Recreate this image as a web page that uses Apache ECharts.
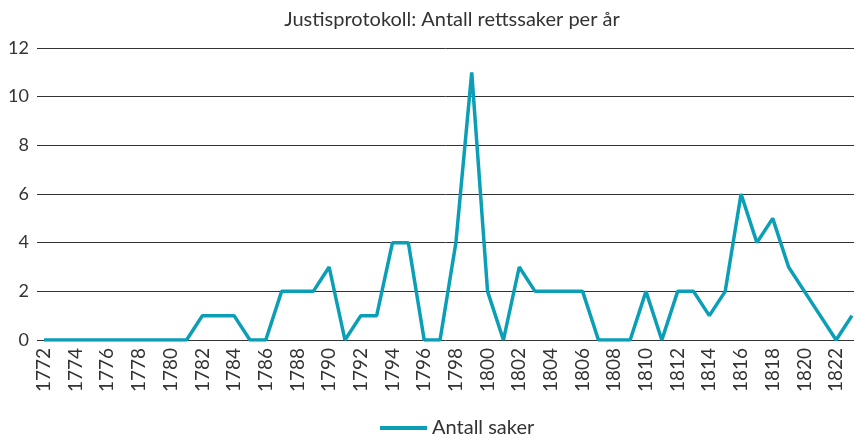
<!DOCTYPE html>
<html>
<head>
<meta charset="utf-8">
<script src="https://cdn.jsdelivr.net/npm/echarts@6/dist/echarts.min.js"></script>
<style>
  html, body { margin: 0; padding: 0; background: #fff; }
  #chart { width: 854px; height: 435px; }
</style>
</head>
<body>
<div id="chart"></div>
<script>
// years 1772 - 1823
const years = [];
for (let y = 1772; y <= 1823; y++) years.push(y);

const antallSaker = [
  0, 0, 0, 0, 0, 0, 0, 0, 0, 0,
  1, 1, 1, 0, 0, 2, 2, 2, 3, 0,
  1, 1, 4, 4, 0, 0, 4, 11, 2, 0,
  3, 2, 2, 2, 2, 0, 0, 0, 2, 0,
  2, 2, 1, 2, 6, 4, 5, 3, 2, 1,
  0, 1
];

// every second year is labelled
const yearLabels = years.filter(y => y % 2 === 0 && y <= 1822);

const yTicks = { min: 0, max: 12, interval: 2 };

const font = 'Lato, "Open Sans", sans-serif';

const myChart = echarts.init(document.getElementById('chart'));
myChart.setOption({
  animation: false,
  title: {
    text: 'Justisprotokoll: Antall rettssaker per år',
    left: 447,
    textAlign: 'center',
    top: 5,
    textStyle: { fontFamily: font, fontSize: 20, fontWeight: 'normal', color: '#333' }
  },
  legend: {
    top: 413,
    left: 375,
    itemWidth: 47,
    itemHeight: 4,
    itemGap: 10,
    icon: 'rect',
    textStyle: { fontFamily: font, fontSize: 20, color: '#333' },
    data: ['Antall saker']
  },
  grid: { left: 37, right: 0, top: 48, bottom: 95, containLabel: false },
  xAxis: {
    type: 'value',
    min: 1771.56,
    max: 1823.13,
    splitLine: { show: false },
    axisLine: { show: false },
    axisTick: { show: false },
    axisLabel: {
      customValues: yearLabels,
      formatter: v => String(v),
      rotate: 90,
      margin: 8,
      fontFamily: font,
      fontSize: 19,
      color: '#333'
    }
  },
  yAxis: {
    type: 'value',
    min: yTicks.min,
    max: yTicks.max,
    interval: yTicks.interval,
    axisLine: { show: false },
    axisTick: { show: false },
    axisLabel: { fontFamily: font, fontSize: 18, color: '#333', margin: 8 },
    splitLine: { lineStyle: { color: '#333', width: 1 } }
  },
  series: [{
    name: 'Antall saker',
    type: 'line',
    data: years.map((y, i) => [y, antallSaker[i]]),
    symbol: 'none',
    color: '#0a9fb6',
    lineStyle: { width: 3.5, color: '#0a9fb6' }
  }]
});
</script>
</body>
</html>
